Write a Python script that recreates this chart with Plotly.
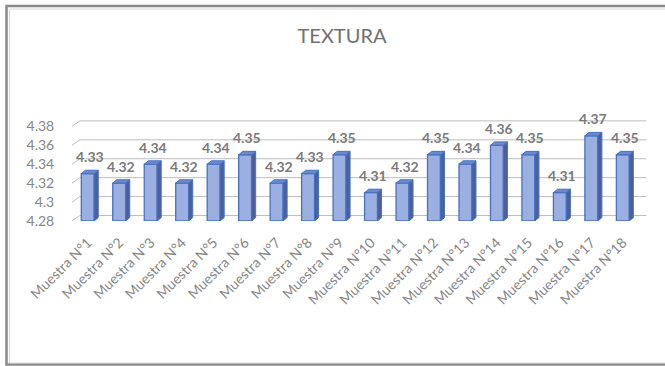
import plotly.graph_objects as go

# Texture scores per sample
categorias = [f"Muestra N°{i}" for i in range(1, 19)]
valores = [4.33, 4.32, 4.34, 4.32, 4.34, 4.35, 4.32, 4.33, 4.35,
           4.31, 4.32, 4.35, 4.34, 4.36, 4.35, 4.31, 4.37, 4.35]
ticks_y = [4.28, 4.30, 4.32, 4.34, 4.36, 4.38]
ticks_y_texto = ["4.28", "4.3", "4.32", "4.34", "4.36", "4.38"]

BASE = 4.28
Y_MAX = 4.392
X_MIN, X_MAX = -0.5, 17.8
ANCHO = 0.41          # bar width in category units
DX, DY = 0.13, 0.0036  # bar depth offset (category units, value units)
WX, WY = 0.25, 0.0058  # back-wall offset for the gridlines

FUENTE = "Lato"
GRIS = "#858585"

# figure geometry (pixels)
W, H = 665, 366
ML, MR, MT, MB = 72, 17, 115, 145
PW, PH = W - ML - MR, H - MT - MB


def px_x(p):
    return (p - ML) / PW


def px_y(p):
    return (H - MB - p) / PH


xs = list(range(len(categorias)))

fig = go.Figure()

# side faces of the bars
sx, sy = [], []
for i, v in zip(xs, valores):
    r = i + ANCHO / 2
    sx += [r, r + DX, r + DX, r, r, None]
    sy += [BASE, BASE + DY, v + DY, v, BASE, None]
fig.add_trace(go.Scatter(x=sx, y=sy, mode="lines", fill="toself",
                         fillcolor="#4d5f9c",
                         line=dict(color="#4472c4", width=1),
                         hoverinfo="skip", showlegend=False))

# top faces of the bars
tx, ty = [], []
for i, v in zip(xs, valores):
    l, r = i - ANCHO / 2, i + ANCHO / 2
    tx += [l, l + DX, r + DX, r, l, None]
    ty += [v, v + DY, v + DY, v, v, None]
fig.add_trace(go.Scatter(x=tx, y=ty, mode="lines", fill="toself",
                         fillcolor="#6f88cc",
                         line=dict(color="#4472c4", width=1),
                         hoverinfo="skip", showlegend=False))

# front faces
fig.add_trace(go.Bar(
    x=xs, y=[v - BASE for v in valores], base=BASE, width=ANCHO,
    marker=dict(color="#9cafe1", line=dict(color="#4472c4", width=1.3)),
    showlegend=False, hoverinfo="skip"))

# value labels above each bar
anotaciones = []
for i, v in zip(xs, valores):
    anotaciones.append(dict(
        x=i + DX / 2, y=v + DY, xref="x", yref="y", text=f"{v:.2f}",
        showarrow=False, yanchor="bottom", yshift=3,
        font=dict(family=FUENTE, size=14, color="#7a7a7a", weight="bold")))

# gridlines on the back wall (behind the bars), with the short
# perspective segment on the left
formas = []
for v in ticks_y:
    formas.append(dict(
        type="path", xref="x", yref="y", layer="below",
        path=(f"M {X_MIN},{v} L {X_MIN + WX},{v + WY} "
              f"L {len(categorias) - 0.5 + WX},{v + WY}"),
        line=dict(color="#bdbdbd", width=1)))

# chart frame
formas += [
    dict(type="rect", xref="paper", yref="paper",
         x0=px_x(6.5), x1=px_x(700), y0=px_y(364.5), y1=px_y(6),
         line=dict(color="#8a8a8a", width=2.5), fillcolor="rgba(0,0,0,0)",
         layer="above"),
    dict(type="rect", xref="paper", yref="paper",
         x0=px_x(9.5), x1=px_x(700), y0=px_y(363), y1=px_y(9),
         line=dict(color="#d6d6d6", width=1), fillcolor="rgba(0,0,0,0)",
         layer="above"),
]

fig.update_layout(
    width=W, height=H,
    margin=dict(l=ML, r=MR, t=MT, b=MB, pad=0),
    paper_bgcolor="white", plot_bgcolor="white",
    font=dict(family=FUENTE, color=GRIS),
    title=dict(text="TEXTURA", x=342 / W, xanchor="center",
               y=1 - 36 / H, yanchor="middle", xref="container",
               yref="container",
               font=dict(family=FUENTE, size=20, color="#707070")),
    xaxis=dict(range=[X_MIN, X_MAX], tickvals=xs, ticktext=categorias,
               tickangle=-45, showgrid=False, zeroline=False,
               showline=False, ticks="outside", ticklen=7,
               tickcolor="rgba(0,0,0,0)",
               tickfont=dict(family=FUENTE, size=14, color=GRIS)),
    yaxis=dict(range=[BASE, Y_MAX], tickvals=ticks_y, ticktext=ticks_y_texto,
               showgrid=False, zeroline=False, showline=False,
               ticks="outside", ticklen=14, tickcolor="rgba(0,0,0,0)",
               tickfont=dict(family=FUENTE, size=14, color=GRIS)),
    annotations=anotaciones,
    shapes=formas,
    barmode="overlay",
)

fig.write_html("out.html")
